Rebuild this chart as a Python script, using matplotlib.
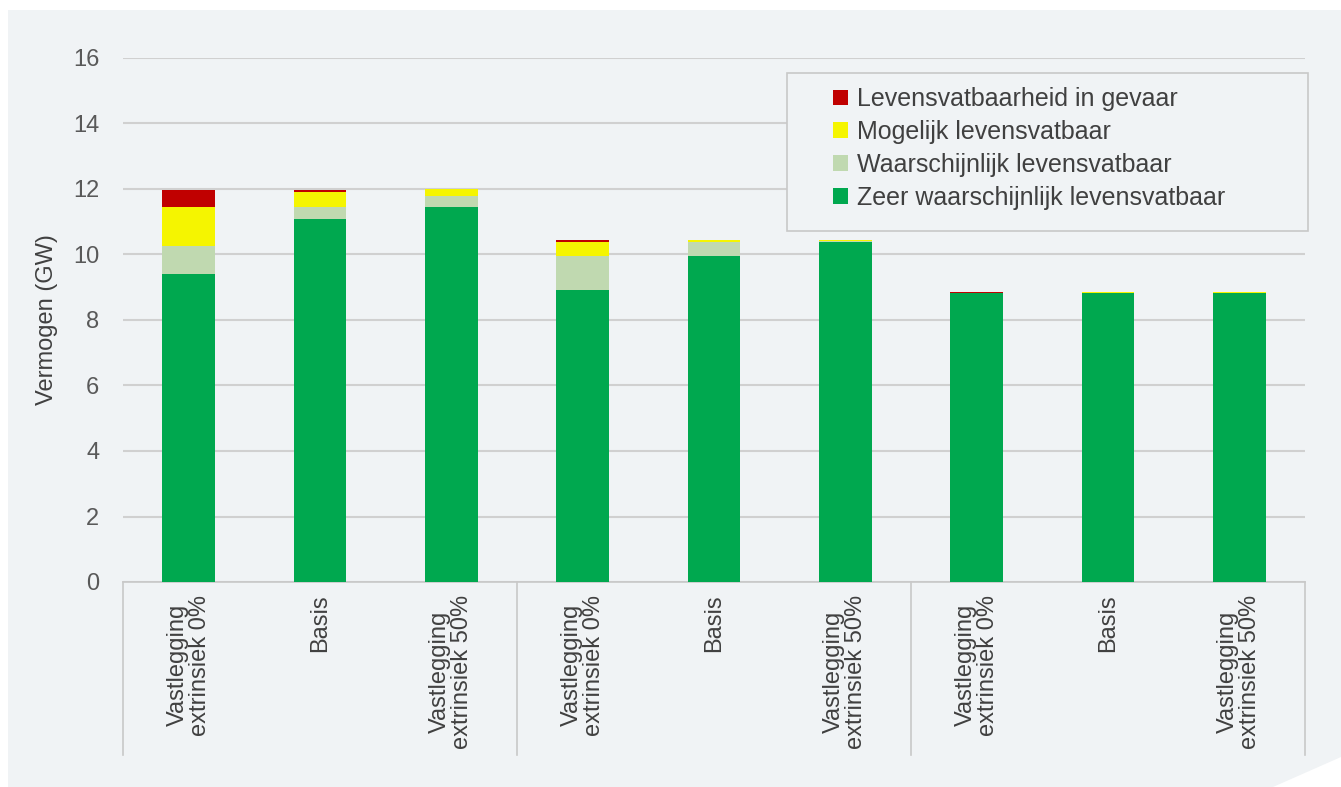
import matplotlib.pyplot as plt
from matplotlib.patches import Polygon, Rectangle
from matplotlib.transforms import blended_transform_factory

plt.rcParams['font.family'] = ['Liberation Sans', 'DejaVu Sans']

## data
categories = ["Vastlegging\nextrinsiek 0%", "Basis", "Vastlegging\nextrinsiek 50%"] * 3
series_names = [
    "Zeer waarschijnlijk levensvatbaar",
    "Waarschijnlijk levensvatbaar",
    "Mogelijk levensvatbaar",
    "Levensvatbaarheid in gevaar",
]
zeer_waarschijnlijk = [9.40, 11.09, 11.46, 8.92, 9.95, 10.38, 8.82, 8.82, 8.82]
waarschijnlijk = [0.86, 0.35, 0.33, 1.03, 0.43, 0.02, 0.00, 0.00, 0.00]
mogelijk = [1.20, 0.47, 0.20, 0.43, 0.06, 0.04, 0.00, 0.04, 0.04]
in_gevaar = [0.51, 0.06, 0.00, 0.06, 0.00, 0.00, 0.04, 0.00, 0.00]
y_ticks = [0, 2, 4, 6, 8, 10, 12, 14, 16]

colors = ["#00a84f", "#c0d9b0", "#f5f500", "#c00000"]
bg = "#f0f3f5"
text_col = "#404040"

fig = plt.figure(figsize=(13.41, 7.87), dpi=100)
fig.patch.set_facecolor("white")

# light panel behind the chart with a clipped lower-right corner
W, H = 1341, 787
pts = [(8, 10), (1341, 10), (1341, 757), (1273, 787), (8, 787)]
panel = Polygon([(x / W, 1 - y / H) for x, y in pts], closed=True,
                transform=fig.transFigure, facecolor=bg, edgecolor="none", zorder=-10)
fig.patches.append(panel)

ax = fig.add_axes([123 / W, 1 - 582 / H, 1182 / W, 524 / H])
ax.set_facecolor(bg)
ax.patch.set_alpha(0)

x = list(range(len(categories)))
bottom = [0.0] * len(x)
handles = []
for vals, name, col in zip([zeer_waarschijnlijk, waarschijnlijk, mogelijk, in_gevaar], series_names, colors):
    b = ax.bar(x, vals, width=0.4, bottom=bottom, color=col, label=name, zorder=3)
    handles.append(b)
    bottom = [bb + v for bb, v in zip(bottom, vals)]

ax.set_xlim(-0.5, len(x) - 0.5)
ax.set_ylim(0, 16)
ax.set_yticks(y_ticks)
ax.set_yticklabels([str(t) for t in y_ticks], fontsize=17, color="#595959")
ax.tick_params(axis="y", length=0, pad=17)
ax.yaxis.grid(True, color="#d0d0d0", linewidth=1.5, zorder=0)
ax.set_axisbelow(True)
for s in ["top", "right", "left"]:
    ax.spines[s].set_visible(False)
ax.spines["bottom"].set_color("#c8c8c8")
ax.spines["bottom"].set_linewidth(1.2)

ax.set_xticks(x)
ax.set_xticklabels(categories, rotation=90, fontsize=17, color=text_col,
                   linespacing=1.0, va="top", ha="center", multialignment="center")
ax.tick_params(axis="x", length=0, pad=9)

ax.set_ylabel("Vermogen (GW)", fontsize=17, color=text_col, labelpad=11)

# group separators below the axis
trans = blended_transform_factory(ax.transData, ax.transAxes)
for xs in [-0.5, 2.5, 5.5, 8.5]:
    ax.plot([xs, xs], [0, -0.33], transform=trans, color="#c8c8c8",
            linewidth=1.2, clip_on=False)

# legend box is wider than its entries, so the frame is drawn separately
box = Rectangle((0.5618, 0.670), 0.4408, 0.3015, transform=ax.transAxes,
                facecolor=bg, edgecolor="#c8c8c8", linewidth=1.2,
                zorder=4, clip_on=False)
ax.add_patch(box)
leg = ax.legend(handles[::-1], series_names[::-1], loc="upper left",
                bbox_to_anchor=(0.6007, 0.944), borderaxespad=0, fontsize=18,
                handlelength=0.6, handleheight=0.6, handletextpad=0.35,
                labelspacing=0.35, borderpad=0, frameon=False)
leg.set_zorder(5)
for t in leg.get_texts():
    t.set_color(text_col)

fig.savefig("out.png", dpi=100)
